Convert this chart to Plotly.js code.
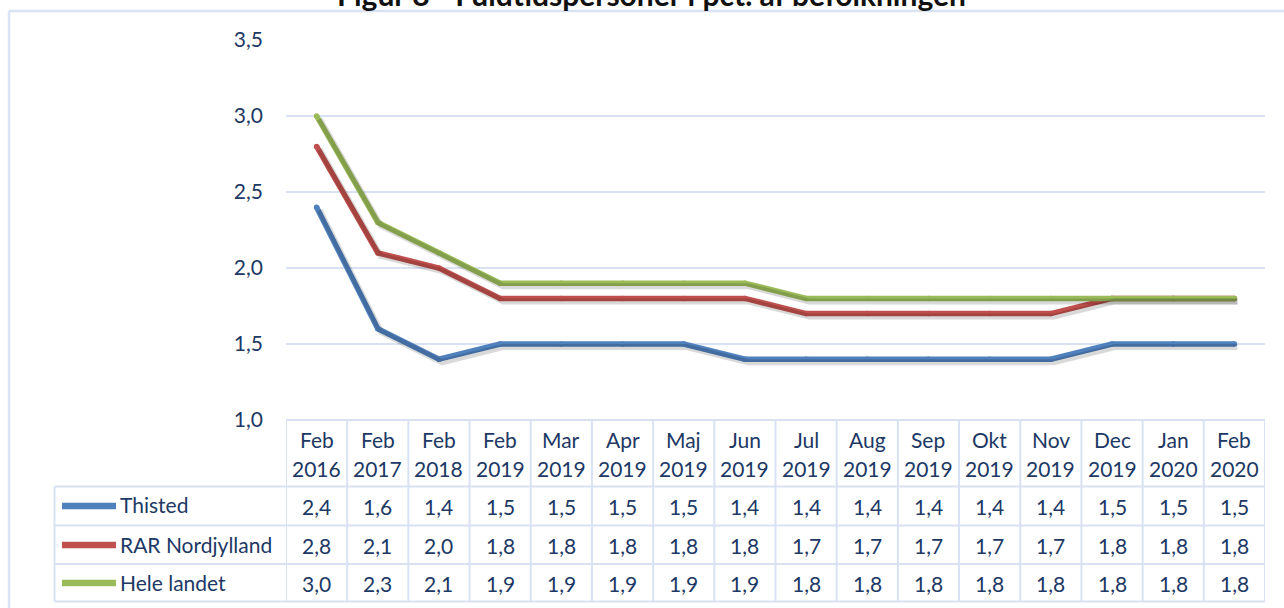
<!DOCTYPE html>
<html><head><meta charset="utf-8">
<script src="https://cdn.plot.ly/plotly-3.0.1.min.js"></script>
<style>html,body{margin:0;padding:0;background:#fff;overflow:hidden}</style>
</head><body><div id="chart" style="width:1284px;height:608px"></div>
<script>
const titleText = 'Figur 8 - Fuldtidspersoner i pct. af befolkningen';
const months = ['Feb','Feb','Feb','Feb','Mar','Apr','Maj','Jun','Jul','Aug','Sep','Okt','Nov','Dec','Jan','Feb'];
const years = ['2016','2017','2018','2019','2019','2019','2019','2019','2019','2019','2019','2019','2019','2019','2020','2020'];
const seriesNames = ['Thisted','RAR Nordjylland','Hele landet'];
const thisted = [2.4,1.6,1.4,1.5,1.5,1.5,1.5,1.4,1.4,1.4,1.4,1.4,1.4,1.5,1.5,1.5];
const rarNordjylland = [2.8,2.1,2.0,1.8,1.8,1.8,1.8,1.8,1.7,1.7,1.7,1.7,1.7,1.8,1.8,1.8];
const heleLandet = [3.0,2.3,2.1,1.9,1.9,1.9,1.9,1.9,1.8,1.8,1.8,1.8,1.8,1.8,1.8,1.8];
const yTicks = [1.0,1.5,2.0,2.5,3.0,3.5];

const series = [thisted, rarNordjylland, heleLandet];
const colors = ['#4F81BD','#C0504D','#9BBB59'];
const textColor = '#203864';
const gridColor = '#D9E2F3';
const FONT = 'Lato, "Open Sans", sans-serif';

const L = 286, R = 1265, T = 40, B = 420;
const xp = px => (px - L) / (R - L);
const yp = py => (B - py) / (B - T);
const idx = months.map((m, i) => i);
const fmt = v => v.toFixed(1).replace('.', ',');

const colW = (R - L) / months.length;
const dx = 3 / colW, dy = 3 * 2.5 / (B - T);

const traces = [];
series.forEach((s, k) => {
  traces.push({x: idx, y: s, xaxis: 'x2', yaxis: 'y2', mode: 'lines', type: 'scatter',
    line: {color: 'rgba(0,0,0,0.15)', width: 6}, hoverinfo: 'skip', showlegend: false});
});
series.forEach((s, k) => {
  traces.push({x: idx, y: s, mode: 'lines+markers', type: 'scatter', name: seriesNames[k],
    line: {color: colors[k], width: 5.5}, marker: {color: colors[k], size: 5.5}, showlegend: false});
});

const shapes = [];
const ln = (x0, y0, x1, y1, xref, color, w) => shapes.push({type: 'line', xref: xref || 'paper', yref: 'paper',
  x0, y0, x1, y1, line: {color: color || gridColor, width: w || 2}});
// outer frame
ln(xp(9), yp(11), xp(9), yp(620), 'paper', '#DAE3F3', 2.5);
ln(xp(9), yp(11), xp(1300), yp(11), 'paper', '#DAE3F3', 2.5);
// table
const rowLines = [486.5, 525.5, 564, 601.5];
for (let k = 0; k <= months.length; k++) ln(k - 0.5, 0, k - 0.5, yp(601.5), 'x');
rowLines.forEach(r => ln(xp(54.5), yp(r), 1, yp(r)));
ln(0, 0, 1, 0);
ln(xp(54.5), yp(486.5), xp(54.5), yp(601.5));
// legend keys
const rowCenters = [506, 545, 583];
rowCenters.forEach((c, k) => ln(xp(62), yp(c), xp(116), yp(c), 'paper', colors[k], 6.5));

const annotations = [];
const ann = (text, x, y, xref, opts) => annotations.push(Object.assign({text, x, y, xref, yref: 'paper',
  showarrow: false, xanchor: 'center', yanchor: 'middle', font: {family: FONT, size: 21, color: textColor}}, opts || {}));
months.forEach((m, i) => {
  ann(m, i, yp(439), 'x');
  ann(years[i], i, yp(468), 'x');
  series.forEach((s, k) => ann(fmt(s[i]), i, yp(rowCenters[k]), 'x'));
});
seriesNames.forEach((n, k) => ann(n, xp(118), yp(rowCenters[k] - 1), 'paper', {xanchor: 'left'}));
ann(titleText, xp(651), yp(-6), 'paper', {font: {family: FONT, size: 30, color: '#111', weight: 'bold'}});

const layout = {
  width: 1284, height: 608,
  margin: {l: L, r: 1284 - R, t: T, b: 608 - B},
  paper_bgcolor: '#fff', plot_bgcolor: '#fff',
  separators: ',.',
  showlegend: false,
  xaxis: {range: [-0.5, 15.5], showgrid: false, zeroline: false, showticklabels: false, showline: false, fixedrange: true},
  yaxis: {range: [1, 3.5], tickvals: yTicks, ticktext: yTicks.map(fmt), showgrid: true, gridcolor: gridColor, gridwidth: 1.5,
    zeroline: false, showline: false, ticks: '', ticklabelstandoff: 22,
    tickfont: {family: FONT, size: 21, color: textColor}, fixedrange: true},
  xaxis2: {overlaying: 'x', anchor: 'y2', range: [-0.5 - dx, 15.5 - dx], visible: false},
  yaxis2: {overlaying: 'y', anchor: 'x2', range: [1 + dy, 3.5 + dy], visible: false},
  shapes, annotations
};
Plotly.newPlot('chart', traces, layout, {displayModeBar: false, staticPlot: true});
</script></body></html>
